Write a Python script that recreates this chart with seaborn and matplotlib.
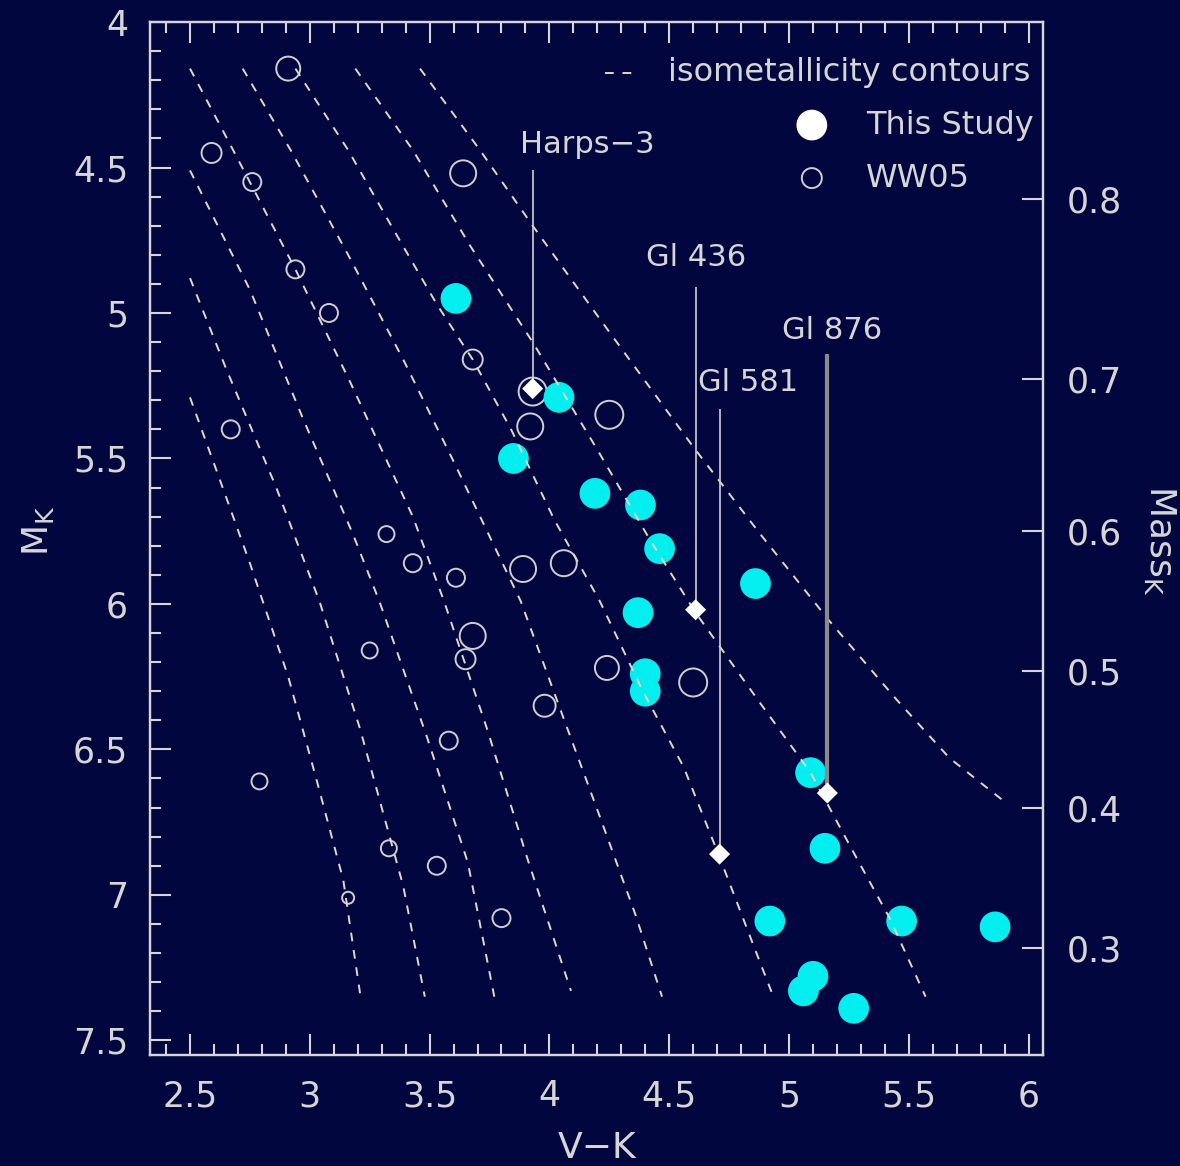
import numpy as np
import pandas as pd
import seaborn as sns
import matplotlib.pyplot as plt
from matplotlib.ticker import MultipleLocator, FuncFormatter

# ---- values ----
# This Study (filled cyan)
study_vk = [3.61, 4.04, 3.85, 4.19, 4.38, 4.46, 4.86, 4.37, 4.40, 4.40,
            5.09, 5.15, 4.92, 5.47, 5.86, 5.10, 5.06, 5.27]
study_mk = [4.95, 5.29, 5.50, 5.62, 5.66, 5.81, 5.93, 6.03, 6.24, 6.30,
            6.58, 6.84, 7.09, 7.09, 7.11, 7.28, 7.33, 7.39]

# WW05 (open circles) and the printed symbol radius (px)
ww05_vk = [2.91, 3.64, 2.59, 2.76, 2.94, 3.08, 3.68, 3.93, 3.92, 4.25,
           2.67, 3.32, 3.43, 3.61, 3.89, 4.06, 3.68, 3.65, 3.25, 4.24,
           4.60, 3.98, 3.58, 2.79, 3.33, 3.53, 3.16, 3.80]
ww05_mk = [4.16, 4.52, 4.45, 4.55, 4.85, 5.00, 5.16, 5.27, 5.39, 5.35,
           5.40, 5.76, 5.86, 5.91, 5.88, 5.86, 6.11, 6.19, 6.16, 6.22,
           6.27, 6.35, 6.47, 6.61, 6.84, 6.90, 7.01, 7.08]
ww05_r = [12, 13, 10, 9, 9, 9, 10, 14, 13, 14,
          9, 8, 9, 9, 13, 13, 13, 10, 8, 12,
          14, 11, 9, 8, 8, 9, 6, 9]

# planet hosts
host_names = ["Harps\u22123", "Gl 436", "Gl 581", "Gl 876"]
host_vk = [3.93, 4.61, 4.71, 5.16]
host_mk = [5.26, 6.02, 6.86, 6.65]
stem_top = [4.51, 4.91, 5.33, 5.14]
label_vk = [4.16, 4.61, 4.83, 5.18]
label_mk = [4.42, 4.81, 5.24, 5.06]

# isometallicity contours
iso_a_vk = [2.50, 2.61, 2.75, 2.91, 3.03, 3.14, 3.21]
iso_a_mk = [5.29, 5.54, 5.86, 6.25, 6.61, 6.95, 7.34]
iso_b_vk = [2.50, 2.65, 2.86, 3.04, 3.21, 3.39, 3.48]
iso_b_mk = [4.88, 5.19, 5.60, 5.99, 6.43, 6.97, 7.35]
iso_c_vk = [2.50, 2.75, 2.97, 3.18, 3.29, 3.49, 3.66, 3.77]
iso_c_mk = [4.51, 4.92, 5.36, 5.76, 5.99, 6.46, 6.89, 7.35]
iso_d_vk = [2.50, 2.68, 2.94, 3.17, 3.43, 3.56, 3.74, 3.91, 4.09]
iso_d_mk = [4.16, 4.44, 4.85, 5.24, 5.70, 5.99, 6.43, 6.88, 7.33]
iso_e_vk = [2.72, 2.92, 3.16, 3.39, 3.60, 3.88, 4.04, 4.21, 4.36, 4.47]
iso_e_mk = [4.16, 4.44, 4.80, 5.16, 5.51, 5.99, 6.35, 6.73, 7.07, 7.35]
iso_f_vk = [2.94, 3.16, 3.34, 3.53, 3.68, 3.84, 4.02, 4.21, 4.39, 4.56, 4.71, 4.85, 4.93]
iso_f_mk = [4.16, 4.44, 4.70, 4.97, 5.16, 5.40, 5.71, 5.99, 6.30, 6.56, 6.87, 7.17, 7.34]
iso_g_vk = [3.19, 3.43, 3.67, 3.93, 4.20, 4.42, 4.61, 4.87, 5.09, 5.26, 5.42, 5.57]
iso_g_mk = [4.16, 4.44, 4.77, 5.10, 5.47, 5.78, 6.03, 6.33, 6.58, 6.84, 7.08, 7.35]
iso_h_vk = [3.46, 3.71, 3.93, 4.21, 4.60, 4.88, 5.17, 5.45, 5.67, 5.90]
iso_h_mk = [4.16, 4.44, 4.70, 5.02, 5.46, 5.76, 6.06, 6.33, 6.53, 6.68]

# right axis: mass scale
mass_labels = ["0.8", "0.7", "0.6", "0.5", "0.4", "0.3"]
mass_tick_mk = [4.608, 5.227, 5.749, 6.230, 6.701, 7.182]

# ---- styling ----
BG = "#01063f"
FG = "#d6d6d6"
CYAN = "#03eeee"
DASH = "#dedac8"
DASH_STYLE = (0, (4.5, 4.5))

sns.set_style("ticks", rc={"axes.facecolor": BG, "figure.facecolor": BG,
                           "axes.edgecolor": FG, "text.color": FG,
                           "xtick.color": FG, "ytick.color": FG,
                           "axes.labelcolor": FG})
plt.rcParams["font.family"] = ["DejaVu Sans"]
plt.rcParams["mathtext.default"] = "regular"

fig = plt.figure(figsize=(11.8, 11.66), dpi=100)
ax = fig.add_axes([0.1275, 0.0948, 0.7564, 0.8863])

iso = pd.concat([
    pd.DataFrame({"vk": vk, "mk": mk, "curve": name})
    for name, vk, mk in [("a", iso_a_vk, iso_a_mk), ("b", iso_b_vk, iso_b_mk),
                         ("c", iso_c_vk, iso_c_mk), ("d", iso_d_vk, iso_d_mk),
                         ("e", iso_e_vk, iso_e_mk), ("f", iso_f_vk, iso_f_mk),
                         ("g", iso_g_vk, iso_g_mk), ("h", iso_h_vk, iso_h_mk)]
], ignore_index=True)

sns.scatterplot(x=ww05_vk, y=ww05_mk, s=[(1.44 * r) ** 2 for r in ww05_r],
                color="none", edgecolor="#cfcfcf", linewidth=1.4, ax=ax, zorder=3)
sns.scatterplot(x=study_vk, y=study_mk, s=490, color=CYAN, edgecolor="none",
                ax=ax, zorder=4)
sns.lineplot(data=iso, x="vk", y="mk", units="curve", estimator=None, sort=False,
             color=DASH, lw=1.4, linestyle=DASH_STYLE, ax=ax, zorder=5)

# stems and labels for the planet hosts
stem_style = [("#d0d0d0", 1.2), ("#d0d0d0", 1.2), ("#d0d0d0", 1.2), ("#8a8a8a", 3.0)]
for i in range(len(host_names)):
    c, w = stem_style[i]
    ax.plot([host_vk[i], host_vk[i]], [stem_top[i], host_mk[i] - 0.03],
            color=c, lw=w, zorder=5, solid_capstyle="butt")
    ax.text(label_vk[i], label_mk[i], host_names[i], fontsize=22, ha="center",
            va="center", color=FG)
sns.scatterplot(x=host_vk, y=host_mk, marker="D", s=115, color="white",
                edgecolor="none", ax=ax, zorder=6)

ax.set_xlim(2.335, 6.06)
ax.set_ylim(7.552, 4.0)
fmt = FuncFormatter(lambda v, p: f"{v:g}")
for axis in (ax.xaxis, ax.yaxis):
    axis.set_major_locator(MultipleLocator(0.5))
    axis.set_minor_locator(MultipleLocator(0.1))
    axis.set_major_formatter(fmt)
ax.tick_params(which="both", direction="in", top=True, right=False, width=1.5,
               labelsize=25, labelcolor=FG)
ax.tick_params(which="major", length=15)
ax.tick_params(which="minor", length=8)
ax.tick_params(axis="x", pad=17)
ax.tick_params(axis="y", pad=16)
for s in ax.spines.values():
    s.set_linewidth(1.6)
    s.set_color(FG)

ax.set_xlabel("V\u2212K", fontsize=26)
ax.set_ylabel("M$_K$", fontsize=26)
ax.xaxis.set_label_coords(0.5, -0.0895)
ax.xaxis.label.set_va("center")
ax.yaxis.set_label_coords(-0.126, 0.508)
ax.yaxis.label.set_va("center")

ax2 = ax.twinx()
ax2.set_ylim(ax.get_ylim())
ax2.set_yticks(mass_tick_mk)
ax2.set_yticklabels(mass_labels)
ax2.tick_params(direction="in", length=15, width=1.5, labelsize=25, pad=17,
                colors=FG)
ax2.tick_params(which="minor", right=False)
for s in ax2.spines.values():
    s.set_linewidth(1.6)
    s.set_color(FG)
ax2.set_ylabel("Mass$_K$", fontsize=26, rotation=270)
ax2.yaxis.set_label_coords(1.131, 0.499)
ax2.yaxis.label.set_va("center")

# legend drawn in axes fraction
ax.plot([0.509, 0.543], [0.9507, 0.9507], transform=ax.transAxes, color=DASH,
        lw=1.4, linestyle=DASH_STYLE)
ax.text(0.580, 0.9507, "isometallicity contours", transform=ax.transAxes,
        fontsize=23, va="center", ha="left")
ax.scatter([0.741], [0.9003], transform=ax.transAxes, s=490, color="white",
           edgecolor="none")
ax.text(0.802, 0.9003, "This Study", transform=ax.transAxes, fontsize=23,
        va="center", ha="left")
ax.scatter([0.741], [0.849], transform=ax.transAxes, s=(1.44 * 10) ** 2,
           facecolor="none", edgecolor="#cfcfcf", linewidth=1.4)
ax.text(0.802, 0.849, "WW05", transform=ax.transAxes, fontsize=23,
        va="center", ha="left")

fig.savefig("out.png", dpi=100, facecolor=BG)
